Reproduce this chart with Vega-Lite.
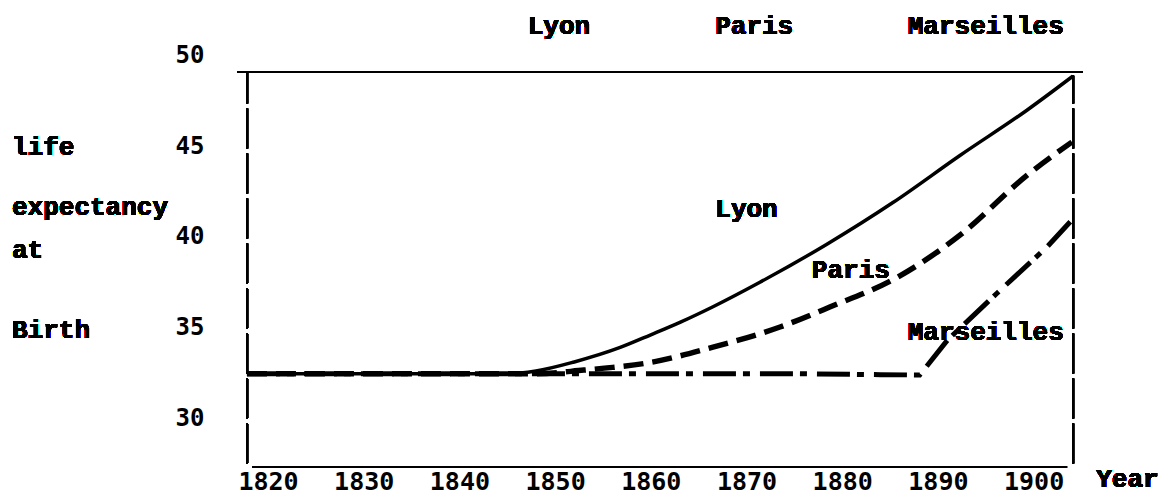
{
  "$schema": "https://vega.github.io/schema/vega-lite/v6.json",
  "width": 846,
  "height": 422,
  "autosize": {"type": "none"},
  "padding": {"left": 237, "top": 45, "right": 80, "bottom": 25},
  "background": "white",
  "config": {"view": {"stroke": null}},
  "data": {"values": [
    {"city": "Lyon", "year": 1817.8, "value": 32.45},
    {"city": "Lyon", "year": 1835, "value": 32.45},
    {"city": "Lyon", "year": 1845, "value": 32.45},
    {"city": "Lyon", "year": 1848, "value": 32.6},
    {"city": "Lyon", "year": 1852, "value": 33.1},
    {"city": "Lyon", "year": 1856.8, "value": 33.9},
    {"city": "Lyon", "year": 1860, "value": 34.6},
    {"city": "Lyon", "year": 1863.1, "value": 35.3},
    {"city": "Lyon", "year": 1866.5, "value": 36.15},
    {"city": "Lyon", "year": 1871.4, "value": 37.5},
    {"city": "Lyon", "year": 1878.4, "value": 39.6},
    {"city": "Lyon", "year": 1885.3, "value": 41.9},
    {"city": "Lyon", "year": 1892.3, "value": 44.5},
    {"city": "Lyon", "year": 1899.3, "value": 47.0},
    {"city": "Lyon", "year": 1904.1, "value": 48.88},
    {"city": "Paris", "year": 1817.8, "value": 32.45},
    {"city": "Paris", "year": 1835, "value": 32.45},
    {"city": "Paris", "year": 1848, "value": 32.45},
    {"city": "Paris", "year": 1853, "value": 32.65},
    {"city": "Paris", "year": 1856, "value": 32.8},
    {"city": "Paris", "year": 1859.6, "value": 33.04},
    {"city": "Paris", "year": 1866.5, "value": 33.92},
    {"city": "Paris", "year": 1873.5, "value": 35.03},
    {"city": "Paris", "year": 1878.7, "value": 36.13},
    {"city": "Paris", "year": 1885.5, "value": 37.7},
    {"city": "Paris", "year": 1892.3, "value": 40.1},
    {"city": "Paris", "year": 1899.3, "value": 43.4},
    {"city": "Paris", "year": 1904.0, "value": 45.24},
    {"city": "Marseilles", "year": 1817.8, "value": 32.45},
    {"city": "Marseilles", "year": 1840, "value": 32.45},
    {"city": "Marseilles", "year": 1860, "value": 32.45},
    {"city": "Marseilles", "year": 1875, "value": 32.45},
    {"city": "Marseilles", "year": 1884, "value": 32.4},
    {"city": "Marseilles", "year": 1888.1, "value": 32.38},
    {"city": "Marseilles", "year": 1891.0, "value": 34.31},
    {"city": "Marseilles", "year": 1896.2, "value": 36.91},
    {"city": "Marseilles", "year": 1901.4, "value": 39.45},
    {"city": "Marseilles", "year": 1904.0, "value": 40.94}
  ]},
  "layer": [
    {
      "transform": [{"filter": "datum.city === 'Lyon'"}],
      "mark": {"type": "line", "color": "black", "strokeWidth": 3.5, "interpolate": "monotone"},
      "encoding": {
        "x": {"field": "year", "type": "quantitative",
              "scale": {"domain": [1816.76, 1905.16], "nice": false, "zero": false},
              "axis": {"values": [1820, 1830, 1840, 1850, 1860, 1870, 1880, 1890, 1900],
                       "format": "d", "domain": false, "ticks": false, "tickSize": 0, "grid": false,
                       "title": null, "labelFont": "DejaVu Sans Mono", "labelFontSize": 25, "labelFontWeight": "bold",
                       "labelColor": "black", "labelBaseline": "alphabetic", "labelPadding": 22,
                       "labelFlush": false, "labelOverlap": false, "labelBound": false}},
        "y": {"field": "value", "type": "quantitative",
              "scale": {"domain": [27.3, 50.6], "nice": false, "zero": false},
              "axis": {"values": [30, 35, 40, 45, 50], "domain": false, "ticks": false, "tickSize": 0,
                       "grid": false, "title": null, "labelFont": "DejaVu Sans Mono", "labelFontSize": 24, "labelFontWeight": "bold",
                       "labelColor": "black", "labelPadding": 33, "labelBaseline": "middle",
                       "labelFlush": false, "labelOverlap": false, "labelBound": false}}
      }
    },
    {
      "transform": [{"filter": "datum.city === 'Paris'"}],
      "mark": {"type": "line", "color": "black", "strokeWidth": 5.5, "strokeDash": [20, 9], "strokeCap": "butt", "interpolate": "monotone"},
      "encoding": {
        "x": {"field": "year", "type": "quantitative"},
        "y": {"field": "value", "type": "quantitative"}
      }
    },
    {
      "transform": [{"filter": "datum.city === 'Marseilles'"}],
      "mark": {"type": "line", "color": "black", "strokeWidth": 5, "strokeDash": [33, 7, 7, 10], "strokeCap": "butt", "interpolate": "linear"},
      "encoding": {
        "x": {"field": "year", "type": "quantitative"},
        "y": {"field": "value", "type": "quantitative"}
      }
    },
    {
      "mark": {"type": "rule", "color": "black", "strokeWidth": 2},
      "encoding": {
        "x": {"datum": 1816.76, "type": "quantitative"},
        "x2": {"datum": 1905.16},
        "y": {"datum": 49.11, "type": "quantitative"}
      }
    },
    {
      "mark": {"type": "rule", "color": "black", "strokeWidth": 2},
      "encoding": {
        "x": {"datum": 1818.33, "type": "quantitative"},
        "x2": {"datum": 1903.49},
        "y": {"datum": 27.3, "type": "quantitative"}
      }
    },
    {
      "mark": {"type": "rule", "color": "black", "strokeWidth": 2, "strokeDash": [40, 5]},
      "encoding": {
        "x": {"datum": 1817.81, "type": "quantitative"},
        "y": {"datum": 27.5, "type": "quantitative"},
        "y2": {"datum": 49.11}
      }
    },
    {
      "mark": {"type": "rule", "color": "black", "strokeWidth": 2, "strokeDash": [40, 5]},
      "encoding": {
        "x": {"datum": 1904.12, "type": "quantitative"},
        "y": {"datum": 27.5, "type": "quantitative"},
        "y2": {"datum": 48.9}
      }
    },
    {
      "mark": {"type": "text", "font": "Liberation Mono", "fontSize": 26, "fontWeight": "bold", "color": "black", "align": "left", "baseline": "alphabetic"},
      "encoding": {"x": {"datum": 1793.25, "type": "quantitative"}, "y": {"datum": 44.53, "type": "quantitative"}, "text": {"value": "life"}}
    },
    {
      "mark": {"type": "text", "font": "Liberation Mono", "fontSize": 26, "fontWeight": "bold", "color": "black", "align": "left", "baseline": "alphabetic"},
      "encoding": {"x": {"datum": 1793.25, "type": "quantitative"}, "y": {"datum": 41.21, "type": "quantitative"}, "text": {"value": "expectancy"}}
    },
    {
      "mark": {"type": "text", "font": "Liberation Mono", "fontSize": 26, "fontWeight": "bold", "color": "black", "align": "left", "baseline": "alphabetic"},
      "encoding": {"x": {"datum": 1793.25, "type": "quantitative"}, "y": {"datum": 38.84, "type": "quantitative"}, "text": {"value": "at"}}
    },
    {
      "mark": {"type": "text", "font": "Liberation Mono", "fontSize": 26, "fontWeight": "bold", "color": "black", "align": "left", "baseline": "alphabetic"},
      "encoding": {"x": {"datum": 1793.25, "type": "quantitative"}, "y": {"datum": 34.42, "type": "quantitative"}, "text": {"value": "Birth"}}
    },
    {
      "mark": {"type": "text", "font": "Liberation Mono", "fontSize": 26, "fontWeight": "bold", "color": "black", "align": "center", "baseline": "alphabetic"},
      "encoding": {"x": {"datum": 1850.4, "type": "quantitative"}, "y": {"datum": 51.21, "type": "quantitative"}, "text": {"value": "Lyon"}}
    },
    {
      "mark": {"type": "text", "font": "Liberation Mono", "fontSize": 26, "fontWeight": "bold", "color": "black", "align": "center", "baseline": "alphabetic"},
      "encoding": {"x": {"datum": 1870.8, "type": "quantitative"}, "y": {"datum": 51.21, "type": "quantitative"}, "text": {"value": "Paris"}}
    },
    {
      "mark": {"type": "text", "font": "Liberation Mono", "fontSize": 26, "fontWeight": "bold", "color": "black", "align": "center", "baseline": "alphabetic"},
      "encoding": {"x": {"datum": 1895.0, "type": "quantitative"}, "y": {"datum": 51.21, "type": "quantitative"}, "text": {"value": "Marseilles"}}
    },
    {
      "mark": {"type": "text", "font": "Liberation Mono", "fontSize": 26, "fontWeight": "bold", "color": "black", "align": "center", "baseline": "alphabetic"},
      "encoding": {"x": {"datum": 1870.0, "type": "quantitative"}, "y": {"datum": 41.1, "type": "quantitative"}, "text": {"value": "Lyon"}}
    },
    {
      "mark": {"type": "text", "font": "Liberation Mono", "fontSize": 26, "fontWeight": "bold", "color": "black", "align": "center", "baseline": "alphabetic"},
      "encoding": {"x": {"datum": 1880.9, "type": "quantitative"}, "y": {"datum": 37.73, "type": "quantitative"}, "text": {"value": "Paris"}}
    },
    {
      "mark": {"type": "text", "font": "Liberation Mono", "fontSize": 26, "fontWeight": "bold", "color": "black", "align": "center", "baseline": "alphabetic"},
      "encoding": {"x": {"datum": 1895.0, "type": "quantitative"}, "y": {"datum": 34.31, "type": "quantitative"}, "text": {"value": "Marseilles"}}
    },
    {
      "mark": {"type": "text", "font": "Liberation Mono", "fontSize": 26, "fontWeight": "bold", "color": "black", "align": "center", "baseline": "alphabetic"},
      "encoding": {"x": {"datum": 1909.8, "type": "quantitative"}, "y": {"datum": 26.2, "type": "quantitative"}, "text": {"value": "Year"}}
    }
  ]
}
